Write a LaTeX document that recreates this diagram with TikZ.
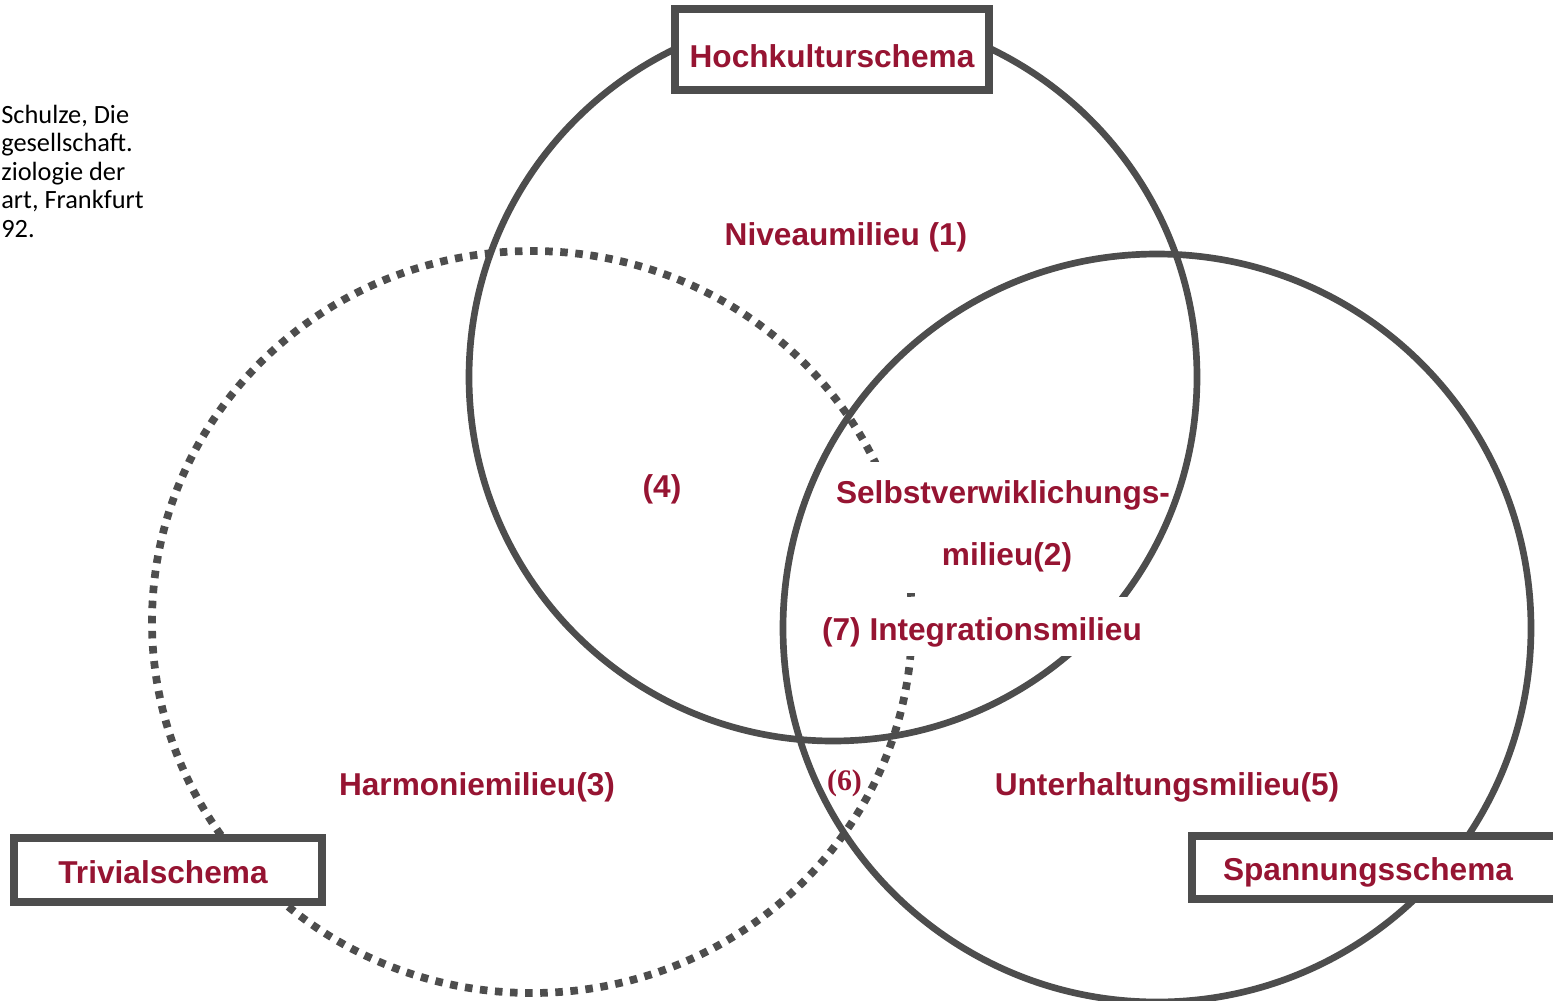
\documentclass[tikz,border=0pt]{standalone}
\usepackage{fontspec}
\setmainfont{Liberation Sans}
\newfontfamily\notefont{Carlito}
\newfontfamily\numfont{Liberation Serif}
\definecolor{schemagray}{RGB}{77,77,77}
\definecolor{milieured}{RGB}{150,20,50}
\tikzset{ring/.style={draw=schemagray,line width=3.8pt},
  dotring/.style={draw=schemagray,line width=4.4pt,dash pattern=on 4.3pt off 4.3pt},
  schemabox/.style={draw=schemagray,line width=4.25pt,fill=white,inner sep=0pt},
  milieu/.style={text=milieured,font=\bfseries\fontsize{18}{21.6}\selectfont,anchor=base,inner sep=0pt}}

\begin{document}
\begin{tikzpicture}[x=0.02cm,y=-0.02cm]
  \useasboundingbox (0,0) rectangle (1553,1001);
  \node[anchor=base west,inner sep=0pt,align=left,font=\notefont\fontsize{15}{16.2}\selectfont] (quelle) at (1,237)
    {Schulze, Die\\gesellschaft.\\ziologie der\\art, Frankfurt\\92.};
  \draw[dotring] (532,622) ellipse [x radius=380,y radius=371];
  \fill[white] (840,462) rectangle (1165,593);
  \draw[ring] (833,377) circle [radius=364];
  \fill[white] (805,597) rectangle (1155,656);
  \draw[ring] (1157,628) circle [radius=374];
  \node[schemabox,minimum width=6.28cm,minimum height=1.62cm] (hochbox) at (832,49.5) {};
  \node[schemabox,minimum width=6.16cm,minimum height=1.28cm] (trivialbox) at (168,870) {};
  \node[schemabox,minimum width=7.36cm,minimum height=1.26cm] (spannungbox) at (1376,867.5) {};
  \node[milieu] (hochkultur) at (832,67) {Hochkulturschema};
  \node[milieu] (trivial) at (163,883) {Trivialschema};
  \node[milieu] (spannung) at (1368,880) {Spannungsschema};
  \node[milieu] (niveau) at (846,245) {Niveaumilieu (1)};
  \node[milieu] (vier) at (662,497) {(4)};
  \node[milieu] (selbst) at (1003,503) {Selbstverwiklichungs-};
  \node[milieu] (selbstb) at (1007,565) {milieu(2)};
  \node[milieu] (integration) at (982,640) {(7) Integrationsmilieu};
  \node[milieu] (harmonie) at (477,795) {Harmoniemilieu(3)};
  \node[milieu] (unterhaltung) at (1167,795) {Unterhaltungsmilieu(5)};
  \node[milieu,font=\numfont\bfseries\fontsize{17}{20}\selectfont] (sechs) at (844.5,790) {(6)};
\end{tikzpicture}
\end{document}
